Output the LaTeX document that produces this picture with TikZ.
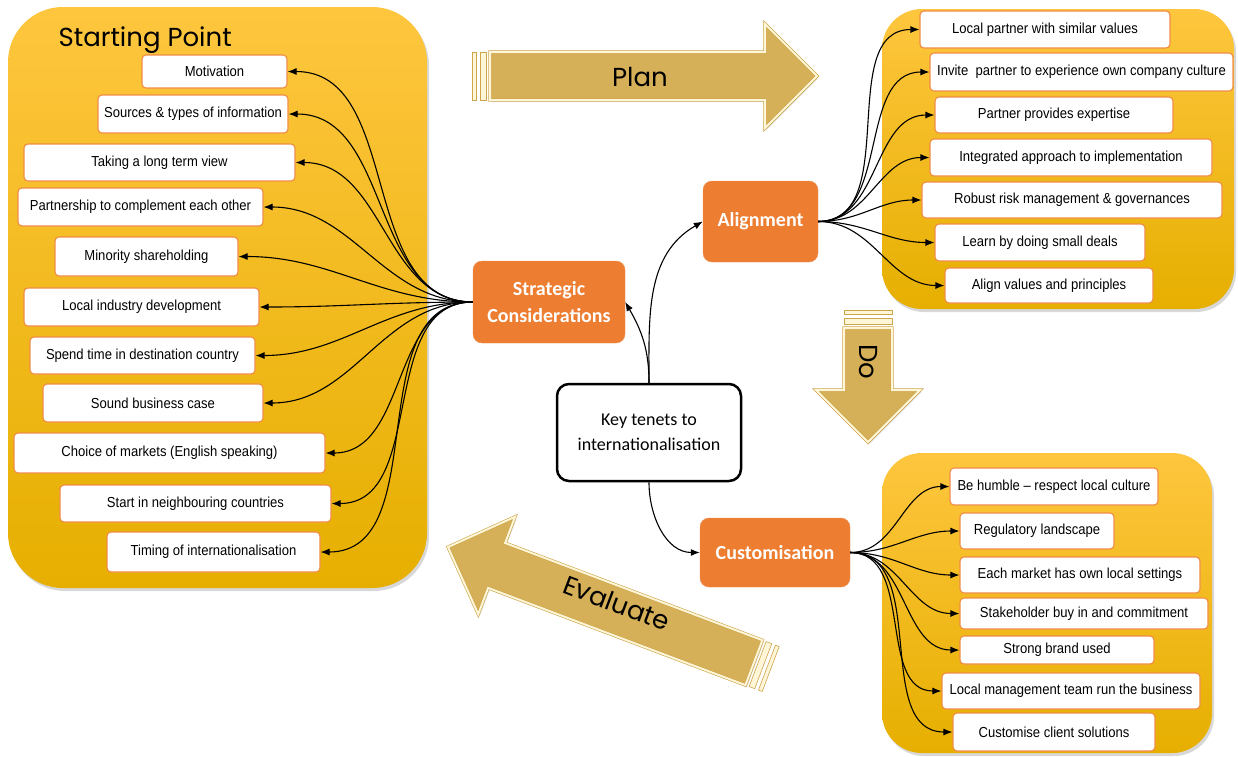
\documentclass[tikz,border=0pt]{standalone}
\usepackage{fontspec}
\setmainfont{Liberation Sans}
\newfontfamily\labelfont[FakeStretch=0.9]{Liberation Sans}
\newfontfamily\calfont{Carlito}
\newfontfamily\geofont{Poppins}
\usetikzlibrary{arrows.meta,shadows}

\definecolor{hubfill}{RGB}{237,125,49}
\definecolor{itemline}{RGB}{240,140,70}
\definecolor{paneltop}{RGB}{254,198,62}
\definecolor{panelmid}{RGB}{255,192,0}
\definecolor{panelbot}{RGB}{230,175,0}
\definecolor{arrowfill}{RGB}{214,176,88}
\definecolor{arrowline}{RGB}{205,165,75}
\definecolor{arrowcream}{RGB}{255,246,215}

\tikzset{
  panel/.style={rounded corners=#1,top color=paneltop,middle color=panelmid,
    bottom color=panelbot,drop shadow={opacity=0.3,shadow xshift=2pt,shadow yshift=-3pt}},
  item/.style={draw=itemline,fill=white,line width=1.1pt,rounded corners=4pt,
    inner sep=0pt,font=\labelfont\fontsize{14.5}{16}\selectfont},
  hub/.style={fill=hubfill,draw=hubfill!85!white,rounded corners=9pt,text=white,
    align=center,font=\calfont\bfseries\fontsize{20}{27}\selectfont},
  arrowbody/.style={fill=arrowfill,draw=arrowline,line width=0.6pt,
    double=arrowcream,double distance=2pt,
    drop shadow={opacity=0.25,shadow xshift=1.5pt,shadow yshift=-2pt}},
  stripe/.style={fill=arrowcream,draw=arrowline,line width=0.6pt},
  bigword/.style={font=\geofont\fontsize{26}{30}\selectfont},
  fan/.style={line width=1.1pt,-{Latex[length=9pt,width=7pt]}}
}

% gold block arrow along local x, tail at origin
\newcommand{\goldarrow}[1]{%
  \path[arrowbody] (18,-24) -- ({#1-52},-24) -- ({#1-52},-52) -- (#1,0)
    -- ({#1-52},52) -- ({#1-52},24) -- (18,24) -- cycle;
  \path[stripe] (0,-24) rectangle (4,24);
  \path[stripe] (8,-24) rectangle (14,24);
}

\begin{document}
\begin{tikzpicture}[x=1pt,y=-1pt]
  \useasboundingbox (0,0) rectangle (1238,756);
  \fill[white] (0,0) rectangle (1238,756);

  % panels
  \path[panel=55pt] (8,7) rectangle (427,588);
  \path[panel=40pt] (882,9) rectangle (1234,309);
  \path[panel=40pt] (882,453) rectangle (1212,753);

  % plan / do / evaluate
  \begin{scope}[shift={(472,76)}]
    \goldarrow{345}
  \end{scope}
  \begin{scope}[shift={(868,310)},rotate=-90]
    \goldarrow{132}
  \end{scope}
  \begin{scope}[shift={(770.7,669)},rotate=159.3]
    \goldarrow{345}
  \end{scope}
  \node[bigword] (plan) at (640,77) {Plan};
  \node[bigword,rotate=-90] (do) at (868,362) {Do};
  \node[bigword,rotate=-20.7] (evaluate) at (617,603) {Evaluate};

  \node[bigword,anchor=west] (start) at (55,40) {Starting Point};

  % centre
  \node[draw,line width=2.5pt,rounded corners=12pt,minimum width=184pt,minimum height=97pt,
    align=center,font=\calfont\fontsize{18}{25}\selectfont] (key) at (649,432.5)
    {Key tenets to\\internationalisation};
  \node[hub,minimum width=152pt,minimum height=82pt] (strat) at (549,302) {Strategic\\Considerations};
  \node[hub,minimum width=115pt,minimum height=81pt] (align) at (760.5,221.5) {Alignment};
  \node[hub,minimum width=150pt,minimum height=69pt] (custom) at (775,552.5) {Customisation};

  % starting point
  \node[item,minimum width=145pt,minimum height=33pt] (motiv) at (214.5,71.5) {Motivation};
  \node[item,minimum width=190pt,minimum height=38pt] (sources) at (193,114) {Sources \& types of information};
  \node[item,minimum width=271pt,minimum height=37pt] (longterm) at (159.5,162.5) {Taking a long term view};
  \node[item,minimum width=245pt,minimum height=38pt] (partner) at (140.5,207) {Partnership to complement each other};
  \node[item,minimum width=183pt,minimum height=39pt] (minority) at (146.5,256.5) {Minority shareholding};
  \node[item,minimum width=235pt,minimum height=38pt] (industry) at (141.5,307) {Local industry development};
  \node[item,minimum width=225pt,minimum height=37pt] (spend) at (142.5,355.5) {Spend time in destination country};
  \node[item,minimum width=220pt,minimum height=38pt] (sound) at (153,403) {Sound business case};
  \node[item,minimum width=311pt,minimum height=40pt] (markets) at (169.5,453) {Choice of markets (English speaking)};
  \node[item,minimum width=271pt,minimum height=37pt] (neighbour) at (195.5,503.5) {Start in neighbouring countries};
  \node[item,minimum width=213pt,minimum height=40pt] (timing) at (213.5,552) {Timing of internationalisation};

  % alignment
  \node[item,minimum width=250pt,minimum height=37pt] (localpartner) at (1045,29.5) {Local partner with similar values};
  \node[item,minimum width=303pt,minimum height=38pt] (invite) at (1081.5,72) {Invite\ \ partner to experience own company culture};
  \node[item,minimum width=238pt,minimum height=36pt] (expertise) at (1054,115) {Partner provides expertise};
  \node[item,minimum width=282pt,minimum height=37pt] (integrated) at (1071,157.5) {Integrated approach to implementation};
  \node[item,minimum width=300pt,minimum height=36pt] (robust) at (1072,200) {Robust risk management \& governances};
  \node[item,minimum width=210pt,minimum height=37pt] (learn) at (1040,242.5) {Learn by doing small deals};
  \node[item,minimum width=208pt,minimum height=35pt] (alignvals) at (1049,285.5) {Align values and principles};

  % customisation
  \node[item,minimum width=208pt,minimum height=37pt] (humble) at (1054,486.5) {Be humble – respect local culture};
  \node[item,minimum width=154pt,minimum height=36pt] (regulatory) at (1037,531) {Regulatory landscape};
  \node[item,minimum width=240pt,minimum height=36pt] (eachmarket) at (1080,575) {Each market has own local settings};
  \node[item,minimum width=248pt,minimum height=31pt] (stakeholder) at (1084,613.5) {Stakeholder buy in and commitment};
  \node[item,minimum width=194pt,minimum height=28pt] (brand) at (1057,650) {Strong brand used};
  \node[item,minimum width=258pt,minimum height=36pt] (localmgmt) at (1071,691) {Local management team run the business};
  \node[item,minimum width=202pt,minimum height=38pt] (clientsol) at (1054,732) {Customise client solutions};

  % connectors
  \path[fan]
    (key.north) edge[out=90,in=-60] (strat.east)
    (key.north) edge[out=90,in=-150] (align.west)
    (key.south) edge[out=-90,in=180] (custom.west);

  \path[fan,out=180,in=0]
    (strat.west) edge (motiv.east)
    (strat.west) edge (sources.east)
    (strat.west) edge (longterm.east)
    (strat.west) edge (partner.east)
    (strat.west) edge (minority.east)
    (strat.west) edge (industry.east)
    (strat.west) edge (spend.east)
    (strat.west) edge (sound.east)
    (strat.west) edge (markets.east)
    (strat.west) edge (neighbour.east)
    (strat.west) edge (timing.east);

  \path[fan,out=0,in=180]
    (align.east) edge (localpartner.west)
    (align.east) edge (invite.west)
    (align.east) edge (expertise.west)
    (align.east) edge (integrated.west)
    (align.east) edge (robust.west)
    (align.east) edge (learn.west)
    (align.east) edge (alignvals.west);

  \path[fan,out=0,in=180]
    (custom.east) edge (humble.west)
    (custom.east) edge (regulatory.west)
    (custom.east) edge (eachmarket.west)
    (custom.east) edge (stakeholder.west)
    (custom.east) edge (brand.west)
    (custom.east) edge (localmgmt.west)
    (custom.east) edge (clientsol.west);
\end{tikzpicture}
\end{document}
